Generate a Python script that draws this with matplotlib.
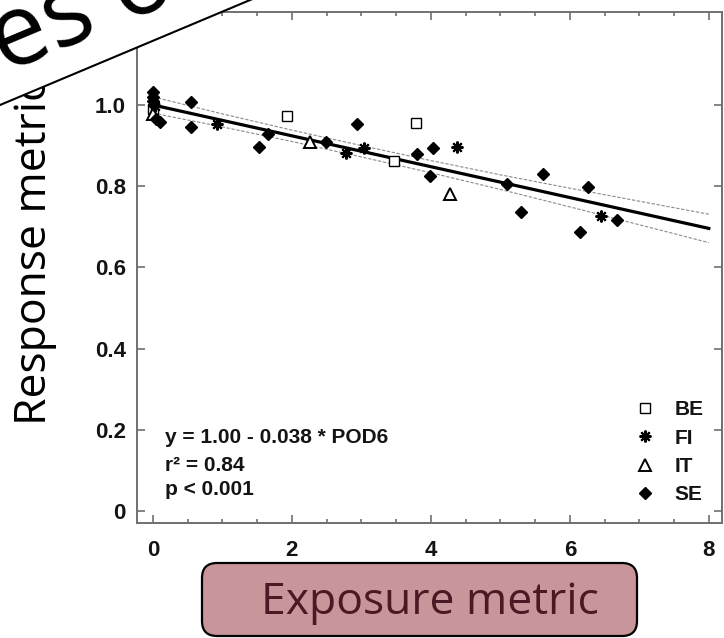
import numpy as np
import matplotlib.pyplot as plt
from matplotlib.patches import Polygon, FancyBboxPatch
from matplotlib.lines import Line2D

# values
be_x = [0.0, 1.93, 3.47, 3.78]
be_y = [0.99, 0.973, 0.862, 0.956]
fi_x = [0.03, 0.92, 2.78, 3.04, 4.37, 6.45]
fi_y = [0.998, 0.953, 0.882, 0.895, 0.897, 0.727]
it_x = [0.0, 2.26, 4.27]
it_y = [0.978, 0.909, 0.781]
se_x = [0.0, 0.0, 0.0, 0.02, 0.05, 0.1, 0.55, 0.55, 1.53, 1.65, 2.49, 2.94,
        3.8, 3.99, 4.03, 5.09, 5.3, 5.61, 6.14, 6.26, 6.68]
se_y = [1.032, 1.02, 1.01, 1.0, 0.966, 0.958, 1.007, 0.946, 0.897, 0.929, 0.909, 0.953,
        0.879, 0.825, 0.894, 0.805, 0.736, 0.83, 0.687, 0.798, 0.717]

# fit from the annotation, and the confidence band half-width
intercept = 1.00
slope = -0.038
band_x = np.array([0, 1, 2, 3, 4, 5, 6, 7, 8])
band_hw = np.array([0.020, 0.016, 0.014, 0.014, 0.015, 0.018, 0.023, 0.029, 0.035])

xticks = [0, 2, 4, 6, 8]
yticks = [0, 0.2, 0.4, 0.6, 0.8, 1.0]
ytick_labels = ['0', '0.2', '0.4', '0.6', '0.8', '1.0']

W, H = 724, 638
fig = plt.figure(figsize=(W / 100, H / 100), dpi=100)
ax = fig.add_axes([137 / W, 1 - 523 / H, 585 / W, 511 / H])

grey = '#707070'
txt = '#141414'
sans = 'Liberation Sans'

fit = intercept + slope * band_x
ax.plot(band_x, fit + band_hw, color='#8a8a8a', lw=0.8, ls=(0, (3, 1.5)), zorder=2)
ax.plot(band_x, fit - band_hw, color='#8a8a8a', lw=0.8, ls=(0, (3, 1.5)), zorder=2)
ax.plot(band_x, fit, color='black', lw=2.3, zorder=3)

h_be, = ax.plot(be_x, be_y, 's', ms=6.5, mfc='white', mec='black', mew=1.0, ls='none', zorder=4)
h_fi, = ax.plot(fi_x, fi_y, marker=(8, 2, 0), ms=8.5, mec='black', mew=1.5, ls='none', zorder=4)
h_it, = ax.plot(it_x, it_y, '^', ms=8, mfc='white', mec='black', mew=1.4, ls='none', zorder=4)
h_se, = ax.plot(se_x, se_y, 'D', ms=6.3, color='black', ls='none', zorder=4)

ax.set_xlim(-0.23, 8.19)
ax.set_ylim(-0.0296, 1.229)
ax.set_xticks(xticks)
ax.set_xticks(np.arange(0, 8.01, 0.5), minor=True)
ax.set_yticks(yticks)
ax.set_yticklabels(ytick_labels)

for s in ax.spines.values():
    s.set_color(grey)
    s.set_linewidth(1.4)
ax.tick_params(which='both', direction='in', top=True, right=True, color=grey, width=1.2)
ax.tick_params(which='major', length=6)
ax.tick_params(which='minor', length=3)
ax.tick_params(axis='x', pad=12, labelsize=16, labelcolor=txt)
ax.tick_params(axis='y', pad=8, labelsize=16, labelcolor=txt)
for lab in ax.get_xticklabels() + ax.get_yticklabels():
    lab.set_family(sans)
    lab.set_fontweight('bold')

note = dict(fontsize=15, family=sans, color=txt, va='center', fontweight='bold')
ax.text(0.17, 0.182, 'y = 1.00 - 0.038 * POD6', **note)
ax.text(0.17, 0.113, 'r² = 0.84', **note)
ax.text(0.17, 0.052, 'p < 0.001', **note)

leg = ax.legend([h_be, h_fi, h_it, h_se], ['BE', 'FI', 'IT', 'SE'], loc='lower right',
                frameon=False, handlelength=1.0, handletextpad=0.9, labelspacing=0.45,
                borderaxespad=0.5, prop={'family': sans, 'size': 15, 'weight': 'bold'})
for t in leg.get_texts():
    t.set_color(txt)

# slide overlay: big rotated title piece in the top left corner
def fx(px):
    return px / W

def fy(py):
    return 1 - py / H

poly = Polygon([(fx(-10), fy(109.2)), (fx(262), fy(-5)), (fx(-10), fy(-10))],
               closed=True, facecolor='white', edgecolor='none',
               transform=fig.transFigure, zorder=5)
fig.add_artist(poly)
fig.add_artist(Line2D([fx(-10), fx(262)], [fy(109.2), fy(-5)], color='black', lw=1.5,
                      transform=fig.transFigure, zorder=6))
fig.text(fx(5), fy(73), 'es o', rotation=22.8, rotation_mode='anchor', ha='left',
         va='baseline', fontsize=72, family='Open Sans', color='black', zorder=7)

fig.text(fx(35), fy(425), 'Response metric', rotation=90, ha='center', va='bottom',
         fontsize=32, family='Open Sans', color='black', zorder=3)

box = FancyBboxPatch((2.02, 0.02), 4.35, 0.73, boxstyle='round,pad=0,rounding_size=0.15',
                     facecolor='#c8959b', edgecolor='black', lw=1.6,
                     transform=fig.dpi_scale_trans, zorder=3)
fig.add_artist(box)
fig.text(fx(430), fy(603), 'Exposure metric', ha='center', va='center', fontsize=32,
         family='Open Sans', color='#4a1a24', zorder=4)

fig.savefig('out.png', dpi=100)
